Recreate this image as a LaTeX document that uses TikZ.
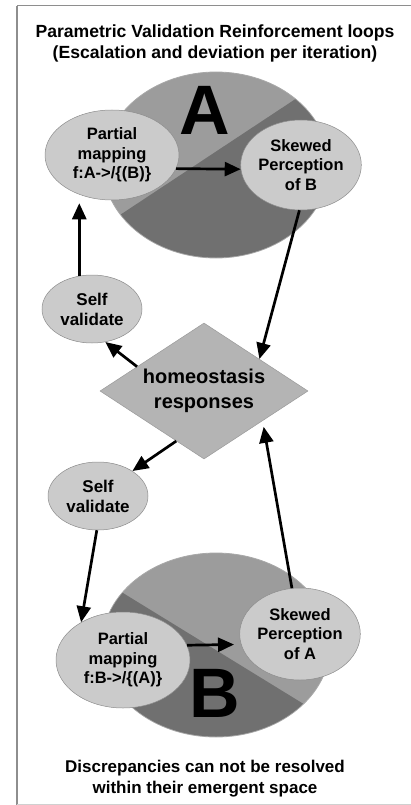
\documentclass[tikz,border=0pt]{standalone}
\usepackage{fontspec}
\setmainfont{Liberation Sans}
\usetikzlibrary{shapes.geometric,arrows.meta}
\definecolor{pielight}{HTML}{9C9C9C}
\definecolor{piedark}{HTML}{707070}
\definecolor{pierim}{HTML}{A8A8A8}
\definecolor{bubble}{HTML}{CBCBCB}
\definecolor{bubbleedge}{HTML}{8C8C8C}
\definecolor{diafill}{HTML}{B4B4B4}
\definecolor{diaedge}{HTML}{9A9A9A}
\definecolor{framegray}{HTML}{8E8E8E}
\definecolor{framelight}{HTML}{D0D0D0}
\tikzset{
  bigpie/.style={ellipse, fill=pielight, draw=pierim, line width=0.8pt, inner sep=0pt},
  bubblenode/.style={ellipse, fill=bubble, draw=bubbleedge, line width=0.5pt, inner sep=0pt,
     align=center, font=\bfseries\fontsize{16.5}{19.5}\selectfont},
  selfnode/.style={bubblenode, minimum width=100pt, minimum height=68pt, font=\bfseries\fontsize{17}{20}\selectfont},
  dianode/.style={diamond, fill=diafill, draw=diaedge, line width=0.5pt, inner sep=0pt,
     minimum width=208pt, minimum height=136pt, shape aspect=1.53, align=center,
     font=\bfseries\fontsize{20}{25}\selectfont},
  bigletter/.style={anchor=base, inner sep=0pt, font=\bfseries\fontsize{70}{70}\selectfont},
  caption/.style={align=center, inner sep=0pt, font=\bfseries\fontsize{17.6}{21}\selectfont},
  footcap/.style={align=center, inner sep=0pt, font=\bfseries\fontsize{17}{21}\selectfont},
  arr/.style={line width=2.7pt, -{Triangle[length=16pt,width=14pt]}},
}
\begin{document}
\begin{tikzpicture}[x=1pt,y=-1pt]
\useasboundingbox (0,0) rectangle (411,805);
% frame
\draw[framegray, line width=1.6pt] (17,6) -- (17,805);
\draw[framegray, line width=1pt] (17,6) -- (411,6);
\draw[framelight, line width=1pt] (17,804) -- (411,804);

% title
\node[caption] (title) at (215,43) {Parametric Validation Reinforcement loops\\(Escalation and deviation per iteration)};

% big pie A
\node[bigpie, minimum width=226pt, minimum height=186pt] (bigA) at (216,165) {};
\begin{scope}
  \clip (216,165) ellipse [x radius=112.5pt, y radius=92.5pt];
  \fill[piedark] (36,270.5) -- (384,40.5) -- (420,300) -- (20,300) -- cycle;
\end{scope}
\node[bigletter] (letA) at (205,135) {A};

% big pie B
\node[bigpie, minimum width=228pt, minimum height=184pt] (bigB) at (216,645) {};
\begin{scope}
  \clip (216,645) ellipse [x radius=113.5pt, y radius=91.5pt];
  \fill[piedark] (14,526) -- (398,762) -- (0,800) -- (0,526) -- cycle;
\end{scope}
\node[bigletter] (letB) at (215,717) {B};

% bubbles
\node[bubblenode, minimum width=134pt, minimum height=90pt] (pmA) at (112,155) {Partial\\mapping\\f:A->/\{(B)\}};
\node[bubblenode, minimum width=100pt, minimum height=90pt] (skB) at (301,165) {Skewed\\Perception\\of B};
\node[selfnode] (selfA) at (92,309) {Self\\validate};
\node[dianode] (dia) at (204,391) {homeostasis\\responses};
\node[selfnode] (selfB) at (98,496) {Self\\validate};
\node[bubblenode, minimum width=134pt, minimum height=96pt] (pmB) at (123,660) {Partial\\mapping\\f:B->/\{(A)\}};
\node[bubblenode, minimum width=101pt, minimum height=92pt] (skA) at (300,634) {Skewed\\Perception\\of A};

% bottom caption
\node[footcap] (foot) at (205,779) {Discrepancies can not be resolved\\within their emergent space};

% connectors
\draw[arr] (pmA.-12) -- (skB.-176);
\draw[arr] (skB.-92) -- (dia.30);
\draw[arr] (dia.160) -- (selfA.-68);
\draw[arr, shorten >=3pt] (selfA.111) -- (selfA.111 |- pmA.south);
\draw[arr] (dia.-119) -- (selfB.36);
\draw[arr] (selfB.-92) -- (pmB.138);
\draw[arr, shorten >=7pt] (pmB.13) -- (skA.190);
\draw[arr, shorten >=6pt] (skA.100) -- (dia.-27);
\end{tikzpicture}
\end{document}
